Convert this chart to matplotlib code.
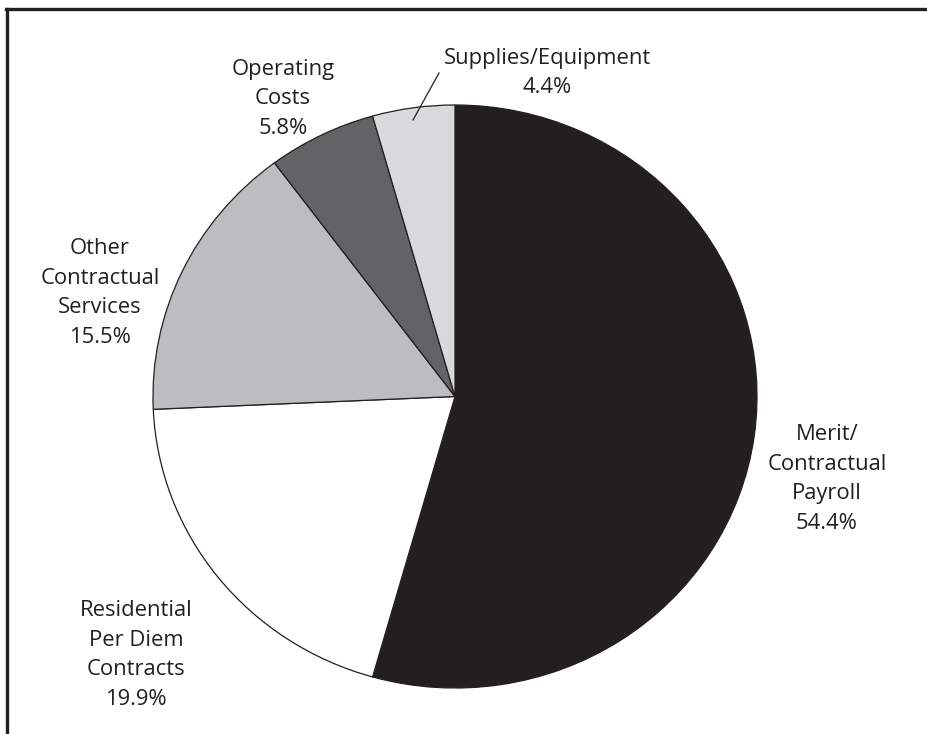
import matplotlib.pyplot as plt
from matplotlib.lines import Line2D

plt.rcParams["font.family"] = ["Open Sans", "DejaVu Sans"]

labels = ["Merit/\nContractual\nPayroll", "Residential\nPer Diem\nContracts",
          "Other\nContractual\nServices", "Operating\nCosts", "Supplies/Equipment"]
shares = [54.4, 19.9, 15.5, 5.8, 4.4]
colors = ["#231f20", "#ffffff", "#bcbdc0", "#626365", "#d8d9db"]

# label centres in pixels of the 928x734 image
label_px = [(827, 479), (136, 655), (100, 293), (283, 99), (547, 73)]

W, H = 928, 734
fig = plt.figure(figsize=(W / 100, H / 100), dpi=100)

# pie box: x 153..757, y 105..688 (slightly squashed, as in the original)
cx, cy, rx, ry = 455, 396.5, 302, 291.5
ax = fig.add_axes([(cx - rx) / W, 1 - (cy + ry) / H, 2 * rx / W, 2 * ry / H])
ax.pie(shares, colors=colors, startangle=90, counterclock=False,
       wedgeprops=dict(edgecolor="#231f20", linewidth=0.9))
ax.set_aspect("auto")
ax.set_xlim(-1, 1)
ax.set_ylim(-1, 1)

for lab, val, (px, py) in zip(labels, shares, label_px):
    x = (px - cx) / rx
    y = (cy - py) / ry
    ax.text(x, y, f"{lab}\n{val}%", ha="center", va="center", fontsize=15.8,
            color="#231f20", linespacing=1.55, clip_on=False)

# leader for the small slice
ax.plot([(439 - cx) / rx, (413 - cx) / rx], [(cy - 73) / ry, (cy - 120) / ry],
        color="#231f20", lw=0.9, clip_on=False)

# partial frame (top and left)
fig.add_artist(Line2D([6 / W, 1], [1 - 8.5 / H] * 2, color="#231f20", lw=2.4))
fig.add_artist(Line2D([7 / W] * 2, [0, 1 - 8.5 / H], color="#231f20", lw=2.4))

fig.savefig("out.png", dpi=100)
